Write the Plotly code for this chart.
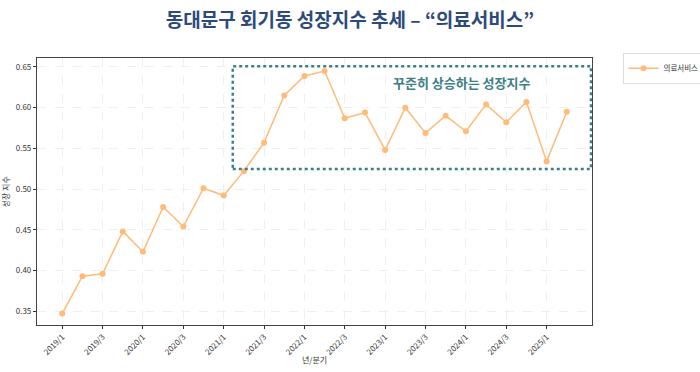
import plotly.graph_objects as go

quarters = [f"{y}/{q}" for y in range(2019, 2026) for q in range(1, 5)][:26]
values = [0.347, 0.393, 0.396, 0.448, 0.423, 0.478, 0.454, 0.501, 0.492, 0.522,
          0.557, 0.615, 0.639, 0.645, 0.587, 0.594, 0.548, 0.600, 0.569, 0.590,
          0.571, 0.604, 0.582, 0.607, 0.534, 0.595]
tick_labels = quarters[::2]
series_name = "의료서비스"
title_text = "동대문구 회기동 성장지수 추세 – “의료서비스”"
note_text = "꾸준히 상승하는 성장지수"
x_title = "년/분기"
y_title = "성장 지수"

FONT = "Noto Sans CJK KR"
idx = list(range(len(quarters)))

fig = go.Figure()
fig.add_trace(go.Scatter(
    x=idx, y=values, mode="lines+markers", name=series_name,
    line=dict(color="#ffbb78", width=1.5),
    marker=dict(color="#ffbb78", size=6),
))

fig.add_shape(type="rect", xref="x", yref="y", x0=8.45, x1=26.2, y0=0.5245, y1=0.651,
              line=dict(color="#3d7f86", width=2.5, dash="dot"), fillcolor="rgba(0,0,0,0)")
fig.add_annotation(x=19.8, y=0.631, xref="x", yref="y", text=f"<b>{note_text}</b>",
                   showarrow=False, font=dict(family=FONT, size=13, color="#3d7f86"))

# axis titles
fig.add_annotation(x=0.5, y=-0.131, xref="paper", yref="paper", text=x_title, showarrow=False,
                   xanchor="center", yanchor="middle", font=dict(family=FONT, size=8, color="#333"))
fig.add_annotation(x=-0.056, y=0.5, xref="paper", yref="paper", text=y_title, showarrow=False,
                   textangle=-90, xanchor="center", yanchor="middle",
                   font=dict(family=FONT, size=8, color="#333"))

fig.update_layout(
    width=700, height=372,
    margin=dict(l=37, r=108, t=58, b=47, autoexpand=False),
    paper_bgcolor="white", plot_bgcolor="white",
    font=dict(family=FONT, size=8, color="#333333"),
    title=dict(text=f"<b>{title_text}</b>", x=0.5, xanchor="center", y=0.945, yanchor="middle",
               font=dict(family=FONT, size=19, color="#2c4a7c")),
    showlegend=True,
    legend=dict(x=1.055, y=0.962, xanchor="left", yanchor="middle", bordercolor="#dddddd",
                borderwidth=1, font=dict(family=FONT, size=7.5), itemwidth=30,
                tracegroupgap=0),
)
fig.update_xaxes(
    range=[-1.25, 26.25], tickmode="array", tickvals=idx[::2], ticktext=tick_labels,
    tickangle=-45, ticks="outside", ticklen=3, tickcolor="#333", automargin=False,
    showgrid=True, gridcolor="#efefef", griddash="dash", gridwidth=0.8,
    showline=True, linecolor="#444", linewidth=1.2, mirror=True, zeroline=False,
)
fig.update_yaxes(
    range=[0.333, 0.661], tickmode="array", tickvals=[0.35, 0.40, 0.45, 0.50, 0.55, 0.60, 0.65],
    ticktext=["0.35", "0.40", "0.45", "0.50", "0.55", "0.60", "0.65"],
    ticks="outside", ticklen=3, tickcolor="#333", automargin=False,
    showgrid=True, gridcolor="#efefef", griddash="dash", gridwidth=0.8,
    showline=True, linecolor="#444", linewidth=1.2, mirror=True, zeroline=False,
)

fig.write_html("out.html", config={"displayModeBar": False},
               post_script="document.body.style.margin='0';")
